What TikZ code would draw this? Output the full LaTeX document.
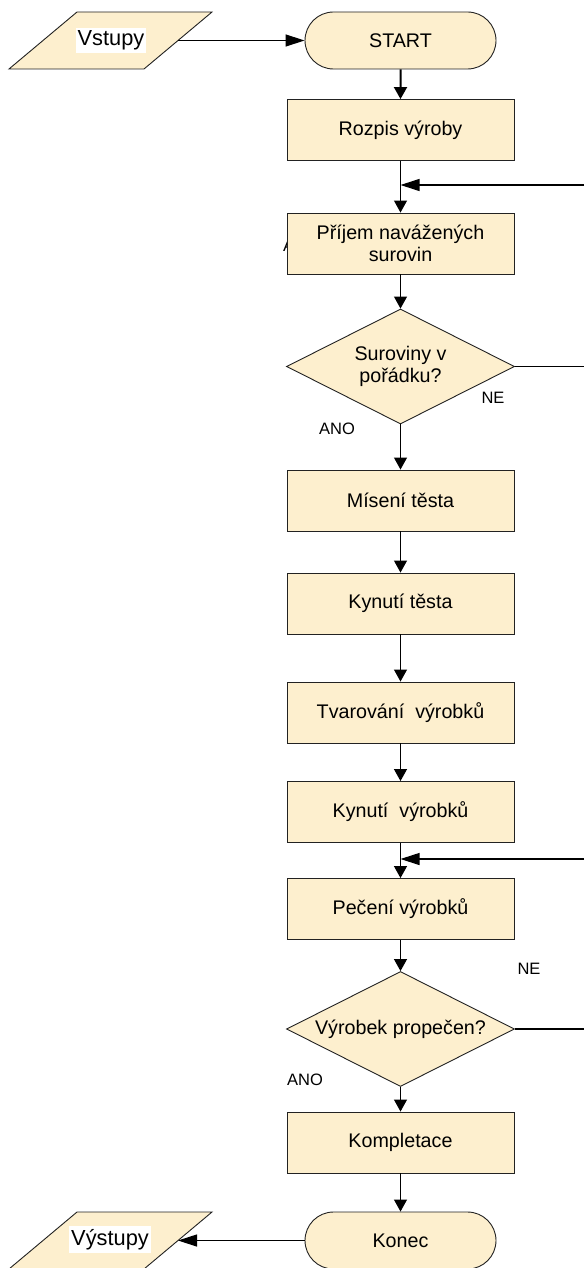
\documentclass[tikz,border=0pt]{standalone}
\usepackage{fontspec}
\setmainfont{Liberation Sans}
\usetikzlibrary{shapes.geometric,shapes.misc,arrows.meta}
\definecolor{boxfill}{HTML}{FDEFCE}
\definecolor{edge}{HTML}{222222}
\begin{document}
\begin{tikzpicture}[x=1pt,y=-1pt,
  every node/.style={font=\fontsize{19.7}{22}\selectfont},
  shapebase/.style={draw=edge,line width=0.9pt,fill=boxfill,inner sep=0pt},
  stepbox/.style={shapebase,rectangle,minimum width=227pt,minimum height=61pt,align=center},
  terminal/.style={shapebase,rounded rectangle,minimum width=191pt,minimum height=57pt},
  decision/.style={shapebase,diamond,minimum width=228pt,minimum height=115pt},
  iotext/.style={fill=white,inner xsep=2pt,inner ysep=3pt,font=\fontsize{21.8}{24}\selectfont},
  tag/.style={font=\fontsize{16.5}{18}\selectfont,inner sep=0pt},
  flow/.style={draw=black,line width=1.1pt,-{Triangle[length=12pt,width=13pt]}},
  sideflow/.style={draw=black,line width=1.1pt,-{Triangle[length=19pt,width=12pt]}},
  plain/.style={draw=black,line width=1.1pt},
]
\useasboundingbox (0,0) rectangle (584,1268);

% label partly hidden behind the intake box
\node[tag,anchor=base west] (anohidden) at (283,251) {ANO};

% inputs and outputs (parallelograms)
\draw[shapebase] (77,12) -- (212,12) -- (144,69) -- (9,69) -- cycle;
\coordinate (vin) at (178,40.5);
\node[iotext] (vintext) at (111,40.5) {Vstupy};
\draw[shapebase] (77,1212) -- (212,1212) -- (144,1269) -- (9,1269) -- cycle;
\coordinate (vout) at (178,1240.5);
\node[iotext] (vouttext) at (110,1239.5) {Výstupy};

% main column
\node[terminal] (start) at (400.5,40.5) {START};
\node[stepbox] (rozpis) at (400.5,130) {Rozpis výroby};
\node[stepbox] (prijem) at (400.5,243.5) {Příjem navážených\\surovin};
\node[decision,label={[align=center]center:Suroviny v\\pořádku?}] (d1) at (400.5,366.5) {};
\node[stepbox] (miseni) at (400.5,500.5) {Mísení těsta};
\node[stepbox] (kynteo) at (400.5,603.5) {Kynutí těsta};
\node[stepbox] (tvar) at (400.5,712.5) {Tvarování~ výrobků};
\node[stepbox] (kynvyr) at (400.5,812) {Kynutí~ výrobků};
\node[stepbox] (peceni) at (400.5,909) {Pečení výrobků};
\node[decision,label={center:Výrobek propečen?}] (d2) at (400.5,1029) {};
\node[stepbox] (komplet) at (400.5,1142.5) {Kompletace};
\node[terminal] (konec) at (400.5,1240.5) {Konec};

% branch labels
\node[tag] (ne1) at (493,398) {NE};
\node[tag] (ano1) at (337,429) {ANO};
\node[tag] (ne2) at (529,969) {NE};
\node[tag] (ano2) at (305,1080) {ANO};

% return points on the right edge
\coordinate (m1) at (400.5,185);
\coordinate (r1) at (584,185);
\coordinate (e1) at (584,366.5);
\coordinate (m2) at (400.5,859);
\coordinate (r2) at (584,859);
\coordinate (e2) at (584,1029);

% connectors
\draw[sideflow] (vin) -- (start);
\draw[flow,line width=2pt] (start) -- (rozpis);
\draw[flow] (rozpis) -- (prijem);
\draw[sideflow] (r1) -- (m1);
\draw[flow] (prijem) -- (d1);
\draw[plain] (d1.east) -- (e1);
\draw[flow] (d1) -- (miseni);
\draw[flow] (miseni) -- (kynteo);
\draw[flow] (kynteo) -- (tvar);
\draw[flow] (tvar) -- (kynvyr);
\draw[flow] (kynvyr) -- (peceni);
\draw[sideflow] (r2) -- (m2);
\draw[flow] (peceni) -- (d2);
\draw[plain] (d2.east) -- (e2);
\draw[flow] (d2) -- (komplet);
\draw[flow] (komplet) -- (konec);
\draw[sideflow] (konec) -- (vout);
\end{tikzpicture}
\end{document}
